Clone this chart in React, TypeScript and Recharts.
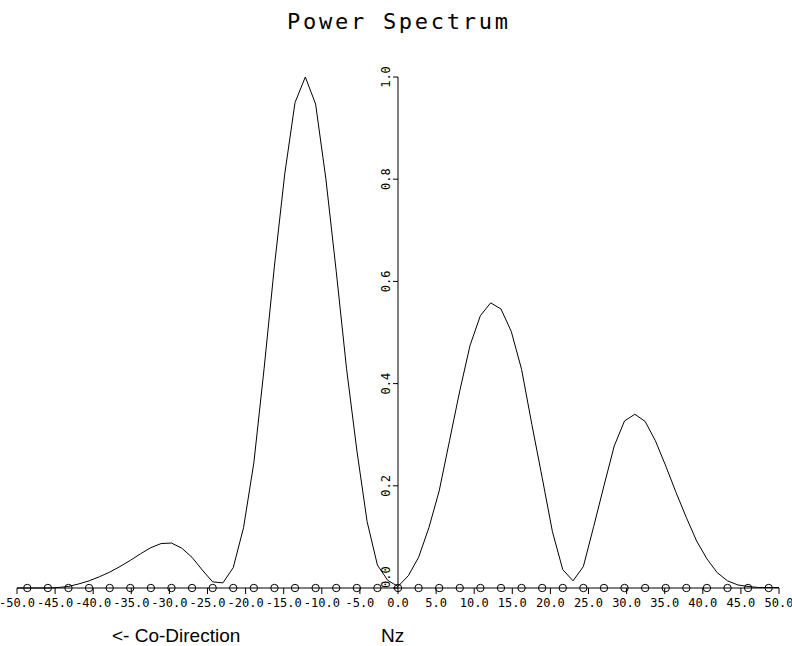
import { ComposedChart, Line, Scatter, XAxis, YAxis, ReferenceLine, ReferenceDot } from 'recharts';

// harmonic step along Nz (75 samples over -50..50), markers every second sample
const STEP = 100 / 74;
const harmonics = Array.from({ length: 75 }, (_, i) => i - 37);
const markerHarmonics = Array.from({ length: 37 }, (_, i) => (i - 18) * 2);

// normalised power, one value per harmonic
const power = [
  0, 0, 0, 0, 0.001, 0.003, 0.008, 0.014, 0.022, 0.031,
  0.042, 0.054, 0.067, 0.079, 0.087, 0.088, 0.078, 0.06, 0.035, 0.012,
  0.01, 0.04, 0.118, 0.245, 0.43, 0.63, 0.81, 0.95, 1.0, 0.947,
  0.8, 0.62, 0.43, 0.27, 0.13, 0.045, 0.015, 0.003, 0.024, 0.06,
  0.118, 0.19, 0.288, 0.386, 0.475, 0.533, 0.558, 0.546, 0.502, 0.428,
  0.32, 0.216, 0.11, 0.036, 0.014, 0.042, 0.12, 0.2, 0.278, 0.327,
  0.34, 0.326, 0.288, 0.239, 0.187, 0.138, 0.092, 0.057, 0.03, 0.014,
  0.006, 0.003, 0.001, 0.001, 0.001,
];

const xTicks = [-50, -45, -40, -35, -30, -25, -20, -15, -10, -5, 0, 5, 10, 15, 20, 25, 30, 35, 40, 45, 50];
const yTicks = [0, 0.2, 0.4, 0.6, 0.8, 1.0];

const curve = harmonics.map((k, i) => ({ x: k * STEP, y: power[i] }));
const markers = markerHarmonics.map((k) => ({ x: k * STEP, y: 0 }));

const MONO = 'DejaVu Sans Mono, monospace';

const YTick = (value: number) => (props: any) => {
  const { cx, cy } = props;
  const lx = cx - 12;
  return (
    <g>
      <line x1={cx - 5} y1={cy} x2={cx} y2={cy} stroke="#000" />
      <text
        x={lx}
        y={cy}
        transform={`rotate(-90 ${lx} ${cy})`}
        textAnchor={value === 0 ? 'start' : 'middle'}
        dominantBaseline="central"
        fontFamily={MONO}
        fontSize={12}
        fill="#000"
      >
        {value.toFixed(1)}
      </text>
    </g>
  );
};

export default function App() {
  return (
    <div style={{ position: 'absolute', left: 0, top: 0, width: 792, height: 646, background: '#fff' }}>
      <ComposedChart width={792} height={646} data={curve} margin={{ top: 77, right: 13, left: 17, bottom: 28 }}>
        <XAxis
          dataKey="x"
          type="number"
          domain={[-50, 50]}
          ticks={xTicks}
          interval={0}
          tickFormatter={(v) => v.toFixed(1)}
          tickSize={6}
          tickMargin={4}
          height={30}
          stroke="#000"
          tick={{ fill: '#000', fontSize: 12, fontFamily: MONO }}
        />
        <YAxis dataKey="y" type="number" domain={[0, 1]} hide />
        <ReferenceLine segment={[{ x: 0, y: 0 }, { x: 0, y: 1 }]} stroke="#000" />
        {yTicks.map((v) => (
          <ReferenceDot key={v} x={0} y={v} r={0} shape={YTick(v)} />
        ))}
        <Line
          type="linear"
          dataKey="y"
          stroke="#000"
          strokeWidth={1}
          dot={false}
          isAnimationActive={false}
        />
        <Scatter
          data={markers}
          isAnimationActive={false}
          shape={(p: any) => <circle cx={p.cx} cy={p.cy} r={3.7} fill="none" stroke="#000" />}
        />
      </ComposedChart>
      <svg width={792} height={646} style={{ position: 'absolute', left: 0, top: 0, pointerEvents: 'none' }}>
        <text
          x={397.5}
          y={29}
          textAnchor="middle"
          fontFamily={MONO}
          fontSize={22}
          textLength={221}
          lengthAdjust="spacing"
          fill="#000"
        >
          Power Spectrum
        </text>
        <text x={112} y={642} fontFamily="Liberation Sans, Arial, sans-serif" fontSize={19} fill="#000">
          {'<- Co-Direction'}
        </text>
        <text x={381} y={642} fontFamily="Liberation Sans, Arial, sans-serif" fontSize={19} fill="#000">
          Nz
        </text>
      </svg>
    </div>
  );
}
